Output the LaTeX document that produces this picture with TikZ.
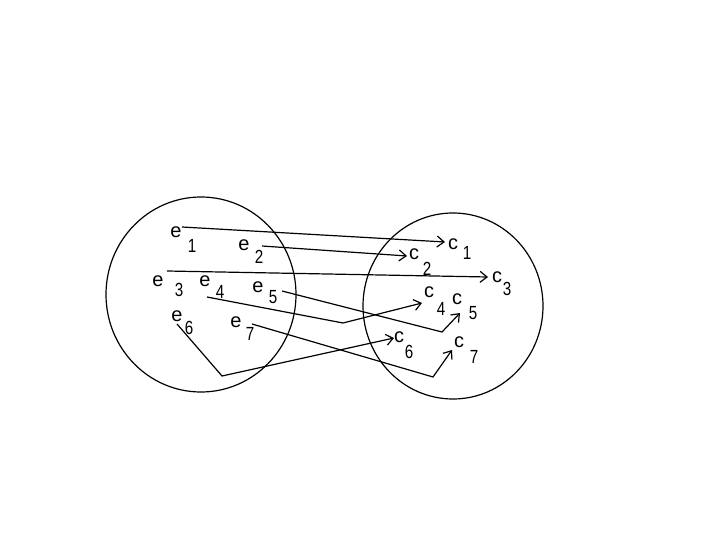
\documentclass[tikz,border=0pt]{standalone}
\usepackage{fontspec}
\setmainfont{Liberation Sans}
\usetikzlibrary{arrows.meta}

\begin{document}
\begin{tikzpicture}[x=1pt,y=-1pt,line width=1.2pt,
  lbl/.style={inner sep=0pt,font=\fontsize{20}{20}\selectfont},
  idx/.style={inner sep=0pt,font=\fontsize{19}{19}\selectfont,xscale=0.8},
  map/.style={-{Straight Barb[length=7pt,width=11pt]}}]
\useasboundingbox (0,0) rectangle (720,540);
\draw (201,294.5) ellipse [x radius=95, y radius=97.5];
\draw (453,306) ellipse [x radius=90, y radius=93];
% domain
\node[lbl] (e1) at (176,232){e}; \node[idx] (e1i) at (192,246){1};
\node[lbl] (e2) at (244,245){e}; \node[idx] (e2i) at (259,257){2};
\node[lbl] (e3) at (158,281){e}; \node[idx] (e3i) at (179,290){3};
\node[lbl] (e4) at (205,281){e}; \node[idx] (e4i) at (220,292){4};
\node[lbl] (e5) at (258,287){e}; \node[idx] (e5i) at (273,297){5};
\node[lbl] (e6) at (177,316){e}; \node[idx] (e6i) at (189,328){6};
\node[lbl] (e7) at (236,322){e}; \node[idx] (e7i) at (250,334){7};
% codomain
\node[lbl] (c1) at (453,244){c}; \node[idx] (c1i) at (467,253){1};
\node[lbl] (c2) at (414,254){c}; \node[idx] (c2i) at (427,269){2};
\node[lbl] (c3) at (497,277){c}; \node[idx] (c3i) at (507,289){3};
\node[lbl] (c4) at (429,292){c}; \node[idx] (c4i) at (441,309){4};
\node[lbl] (c5) at (457,299){c}; \node[idx] (c5i) at (473,313){5};
\node[lbl] (c6) at (399,337){c}; \node[idx] (c6i) at (409,352){6};
\node[lbl] (c7) at (459,342){c}; \node[idx] (c7i) at (474,357){7};
% ends of the arrows
\coordinate (s1) at (182,227); \coordinate (t1) at (445,242);
\coordinate (s2) at (262,246); \coordinate (t2) at (407,256);
\coordinate (s3) at (167,271); \coordinate (t3) at (488,277);
\coordinate (s4) at (207,297); \coordinate (b4) at (343,323); \coordinate (t4) at (422,303);
\coordinate (s5) at (282,291); \coordinate (b5) at (442,332); \coordinate (t5) at (460,313);
\coordinate (s6) at (177,324); \coordinate (b6) at (222,376); \coordinate (t6) at (394,338);
\coordinate (s7) at (252,324); \coordinate (b7) at (433,377); \coordinate (t7) at (452,350);
\draw[map] (s1) -- (t1);
\draw[map] (s2) -- (t2);
\draw[map] (s3) -- (t3);
\draw[map] (s4) -- (b4) -- (t4);
\draw[map] (s5) -- (b5) -- (t5);
\draw[map] (s6) -- (b6) -- (t6);
\draw[map] (s7) -- (b7) -- (t7);
\end{tikzpicture}
\end{document}
